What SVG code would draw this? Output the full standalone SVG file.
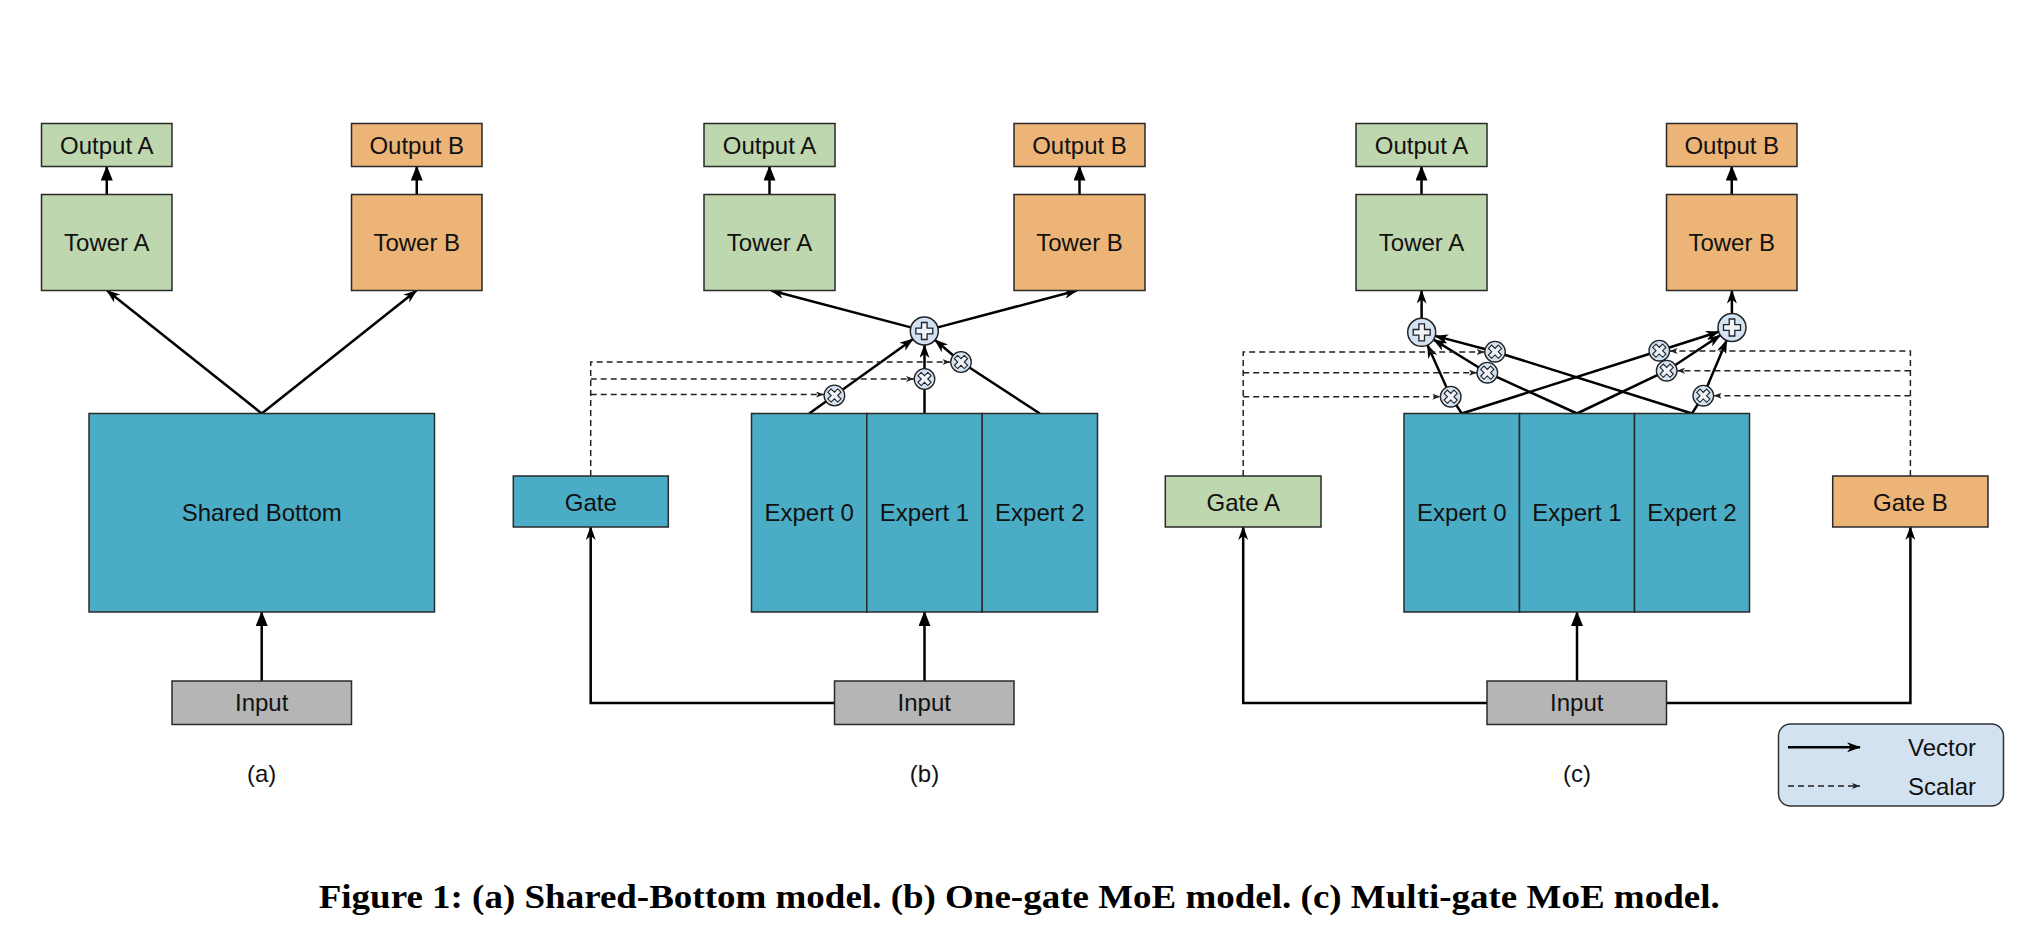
<svg xmlns="http://www.w3.org/2000/svg" xmlns:xlink="http://www.w3.org/1999/xlink" width="2040" height="944" viewBox="0 0 2040 944">
<style>
  .box { stroke: #2a2a2a; stroke-width: 1.5; }
  .green { fill: #bfd7ae; }
  .orange { fill: #ecb477; }
  .blue { fill: #4bacc6; }
  .gray { fill: #b5b5b5; }
  .lbl { font-family: "Liberation Sans", Arial, sans-serif; font-size: 24px; fill: #111; text-anchor: middle; }
  .vec { fill: none; stroke: #000; stroke-width: 2.5; }
  .sca { fill: none; stroke: #222; stroke-width: 1.5; stroke-dasharray: 6 4; }
  .cap { font-family: "Liberation Serif", "Times New Roman", serif; font-size: 34px; font-weight: bold; fill: #000; }
</style>
<defs>
  <marker id="ah" viewBox="0 0 14 10" refX="13" refY="5" markerWidth="14" markerHeight="10" markerUnits="userSpaceOnUse" orient="auto">
    <path d="M0,0 L14,5 L0,10 L4,5 Z" fill="#000"/>
  </marker>
  <marker id="tri" viewBox="0 0 15 12" refX="14" refY="6" markerWidth="15" markerHeight="12" markerUnits="userSpaceOnUse" orient="auto">
    <path d="M0,0 L15,6 L0,12 Z" fill="#000"/>
  </marker>
  <marker id="sm" viewBox="0 0 8 6" refX="8" refY="3" markerWidth="8" markerHeight="6" markerUnits="userSpaceOnUse" orient="auto">
    <path d="M0,0 L8,3 L0,6 L2,3 Z" fill="#222"/>
  </marker>
  <g id="plus">
    <circle r="14" fill="#d3e3f3" stroke="#222" stroke-width="1.5"/>
    <path d="M-2.8,-8.5 H2.8 V-2.8 H8.5 V2.8 H2.8 V8.5 H-2.8 V2.8 H-8.5 V-2.8 H-2.8 Z" fill="#eef4fa" stroke="#222" stroke-width="1.3"/>
  </g>
  <g id="mul">
    <circle r="10.3" fill="#d3e3f3" stroke="#222" stroke-width="1.3"/>
    <path d="M-2.3,-7 H2.3 V-2.3 H7 V2.3 H2.3 V7 H-2.3 V2.3 H-7 V-2.3 H-2.3 Z" transform="rotate(45)" fill="#eef4fa" stroke="#222" stroke-width="1.1"/>
  </g>
</defs>
<rect width="2040" height="944" fill="#fff"/>

<g id="connectors">
  <!-- (a) -->
  <path class="vec" d="M261.7,413.5 L107,290.5" marker-end="url(#ah)"/>
  <path class="vec" d="M261.7,413.5 L416.5,290.5" marker-end="url(#ah)"/>
  <path class="vec" d="M261.7,681 V612" marker-end="url(#tri)"/>
  <path class="vec" d="M106.75,194.5 V166.5" marker-end="url(#tri)"/>
  <path class="vec" d="M416.75,194.5 V166.5" marker-end="url(#tri)"/>
  <!-- (b) -->
  <path class="vec" d="M910.8,327.4 L771,290.5" marker-end="url(#ah)"/>
  <path class="vec" d="M937.8,327.4 L1077,290.5" marker-end="url(#ah)"/>
  <path class="vec" d="M769.5,194.5 V166.5" marker-end="url(#tri)"/>
  <path class="vec" d="M1079.5,194.5 V166.5" marker-end="url(#tri)"/>
  <path class="vec" d="M809.2,413.5 L834.4,395.5 L912.9,339.2" marker-end="url(#ah)"/>
  <path class="vec" d="M924.5,413.5 V345" marker-end="url(#ah)"/>
  <path class="vec" d="M1039.8,413.5 L961,362 L935,340" marker-end="url(#ah)"/>
  <path class="vec" d="M924.5,681 V612" marker-end="url(#tri)"/>
  <path class="vec" d="M834.5,703 H590.7 V527" marker-end="url(#ah)"/>
  <path class="sca" d="M590.7,476 V362 H950.5" marker-end="url(#sm)"/>
  <path class="sca" d="M590.7,379 H914" marker-end="url(#sm)"/>
  <path class="sca" d="M590.7,394.5 H824" marker-end="url(#sm)"/>
  <!-- (c) -->
  <path class="vec" d="M1421.6,318.3 V290.5" marker-end="url(#ah)"/>
  <path class="vec" d="M1731.9,313.5 V290.5" marker-end="url(#ah)"/>
  <path class="vec" d="M1421.5,194.5 V166.5" marker-end="url(#tri)"/>
  <path class="vec" d="M1731.75,194.5 V166.5" marker-end="url(#tri)"/>
  <path class="vec" d="M1461.8,413.5 L1450.7,396.7 L1427.5,345.1" marker-end="url(#ah)"/>
  <path class="vec" d="M1577,413.5 L1487.3,372.7 L1433.6,339.6" marker-end="url(#ah)"/>
  <path class="vec" d="M1692,413.5 L1495,351.7 L1435.2,335.9" marker-end="url(#ah)"/>
  <path class="vec" d="M1461.8,413.5 L1659.3,350.7 L1718.7,331.8" marker-end="url(#ah)"/>
  <path class="vec" d="M1577,413.5 L1666.7,370.7 L1720.3,335.2" marker-end="url(#ah)"/>
  <path class="vec" d="M1692,413.5 L1703.3,395.7 L1726.6,340.4" marker-end="url(#ah)"/>
  <path class="vec" d="M1577,681 V612" marker-end="url(#tri)"/>
  <path class="vec" d="M1487,703 H1243.2 V527" marker-end="url(#ah)"/>
  <path class="vec" d="M1666.5,703 H1910.4 V527" marker-end="url(#ah)"/>
  <path class="sca" d="M1243.2,476 V352 H1484.7" marker-end="url(#sm)"/>
  <path class="sca" d="M1243.2,372.7 H1477" marker-end="url(#sm)"/>
  <path class="sca" d="M1243.2,396.7 H1440.4" marker-end="url(#sm)"/>
  <path class="sca" d="M1910.4,476 V351 H1669.6" marker-end="url(#sm)"/>
  <path class="sca" d="M1910.4,370.7 H1677" marker-end="url(#sm)"/>
  <path class="sca" d="M1910.4,395.7 H1713.6" marker-end="url(#sm)"/>
</g>

<!-- Panel (a) -->
<g id="a-output-a"><rect class="box green" x="41.5" y="123.5" width="130.5" height="43"/><text class="lbl" x="106.75" y="154">Output A</text></g>
<g id="a-output-b"><rect class="box orange" x="351.5" y="123.5" width="130.5" height="43"/><text class="lbl" x="416.75" y="154">Output B</text></g>
<g id="a-tower-a"><rect class="box green" x="41.5" y="194.5" width="130.5" height="96"/><text class="lbl" x="106.75" y="251">Tower A</text></g>
<g id="a-tower-b"><rect class="box orange" x="351.5" y="194.5" width="130.5" height="96"/><text class="lbl" x="416.75" y="251">Tower B</text></g>
<g id="a-shared-bottom"><rect class="box blue" x="89" y="413.5" width="345.5" height="198.5"/><text class="lbl" x="261.7" y="521">Shared Bottom</text></g>
<g id="a-input"><rect class="box gray" x="172" y="681" width="179.5" height="43.5"/><text class="lbl" x="261.7" y="711">Input</text></g>
<g id="a-label"><text class="lbl" x="261.7" y="782">(a)</text></g>

<!-- Panel (b) -->
<g id="b-output-a"><rect class="box green" x="704" y="123.5" width="131" height="43"/><text class="lbl" x="769.5" y="154">Output A</text></g>
<g id="b-output-b"><rect class="box orange" x="1014" y="123.5" width="131" height="43"/><text class="lbl" x="1079.5" y="154">Output B</text></g>
<g id="b-tower-a"><rect class="box green" x="704" y="194.5" width="131" height="96"/><text class="lbl" x="769.5" y="251">Tower A</text></g>
<g id="b-tower-b"><rect class="box orange" x="1014" y="194.5" width="131" height="96"/><text class="lbl" x="1079.5" y="251">Tower B</text></g>
<g id="b-experts">
  <rect class="box blue" x="751.5" y="413.5" width="115.3" height="198.5"/>
  <rect class="box blue" x="866.8" y="413.5" width="115.4" height="198.5"/>
  <rect class="box blue" x="982.2" y="413.5" width="115.3" height="198.5"/>
  <text class="lbl" x="809.2" y="521">Expert 0</text>
  <text class="lbl" x="924.5" y="521">Expert 1</text>
  <text class="lbl" x="1039.8" y="521">Expert 2</text>
</g>
<g id="b-gate"><rect class="box blue" x="513.3" y="476" width="155" height="51"/><text class="lbl" x="590.8" y="511">Gate</text></g>
<g id="b-input"><rect class="box gray" x="834.5" y="681" width="179.5" height="43.5"/><text class="lbl" x="924.25" y="711">Input</text></g>
<g id="b-sum"><use xlink:href="#plus" x="924.3" y="331"/></g>
<g id="b-mul">
  <use xlink:href="#mul" x="834.4" y="395.5"/>
  <use xlink:href="#mul" x="924.5" y="379"/>
  <use xlink:href="#mul" x="961" y="362"/>
</g>
<g id="b-label"><text class="lbl" x="924.5" y="782">(b)</text></g>

<!-- Panel (c) -->
<g id="c-output-a"><rect class="box green" x="1356" y="123.5" width="131" height="43"/><text class="lbl" x="1421.5" y="154">Output A</text></g>
<g id="c-output-b"><rect class="box orange" x="1666.5" y="123.5" width="130.5" height="43"/><text class="lbl" x="1731.75" y="154">Output B</text></g>
<g id="c-tower-a"><rect class="box green" x="1356" y="194.5" width="131" height="96"/><text class="lbl" x="1421.5" y="251">Tower A</text></g>
<g id="c-tower-b"><rect class="box orange" x="1666.5" y="194.5" width="130.5" height="96"/><text class="lbl" x="1731.75" y="251">Tower B</text></g>
<g id="c-experts">
  <rect class="box blue" x="1404" y="413.5" width="115.5" height="198.5"/>
  <rect class="box blue" x="1519.5" y="413.5" width="115" height="198.5"/>
  <rect class="box blue" x="1634.5" y="413.5" width="115" height="198.5"/>
  <text class="lbl" x="1461.8" y="521">Expert 0</text>
  <text class="lbl" x="1577" y="521">Expert 1</text>
  <text class="lbl" x="1692" y="521">Expert 2</text>
</g>
<g id="c-gate-a"><rect class="box green" x="1165.3" y="476" width="155.7" height="51"/><text class="lbl" x="1243.2" y="511">Gate A</text></g>
<g id="c-gate-b"><rect class="box orange" x="1832.7" y="476" width="155.3" height="51"/><text class="lbl" x="1910.4" y="511">Gate B</text></g>
<g id="c-input"><rect class="box gray" x="1487" y="681" width="179.5" height="43.5"/><text class="lbl" x="1576.8" y="711">Input</text></g>
<g id="c-sum-a"><use xlink:href="#plus" x="1421.7" y="332.3"/></g>
<g id="c-sum-b"><use xlink:href="#plus" x="1732" y="327.5"/></g>
<g id="c-mul-a">
  <use xlink:href="#mul" x="1450.7" y="396.7"/>
  <use xlink:href="#mul" x="1487.3" y="372.7"/>
  <use xlink:href="#mul" x="1495" y="351.7"/>
</g>
<g id="c-mul-b">
  <use xlink:href="#mul" x="1659.3" y="350.7"/>
  <use xlink:href="#mul" x="1666.7" y="370.7"/>
  <use xlink:href="#mul" x="1703.3" y="395.7"/>
</g>
<g id="c-label"><text class="lbl" x="1577" y="782">(c)</text></g>

<!-- Legend -->
<g id="legend">
  <rect x="1778.5" y="724" width="225" height="82" rx="12" ry="12" fill="#d3e2f1" stroke="#333" stroke-width="1.5"/>
  <path class="vec" d="M1788,747.3 H1860" marker-end="url(#ah)"/>
  <path class="sca" d="M1788,786 H1860" marker-end="url(#sm)"/>
  <text class="lbl" x="1908" y="755.5" style="text-anchor:start">Vector</text>
  <text class="lbl" x="1908" y="795" style="text-anchor:start">Scalar</text>
</g>

<g id="caption">
  <text class="cap" x="318.7" y="908" textLength="1401" lengthAdjust="spacingAndGlyphs">Figure 1: (a) Shared-Bottom model. (b) One-gate MoE model. (c) Multi-gate MoE model.</text>
</g>
</svg>
